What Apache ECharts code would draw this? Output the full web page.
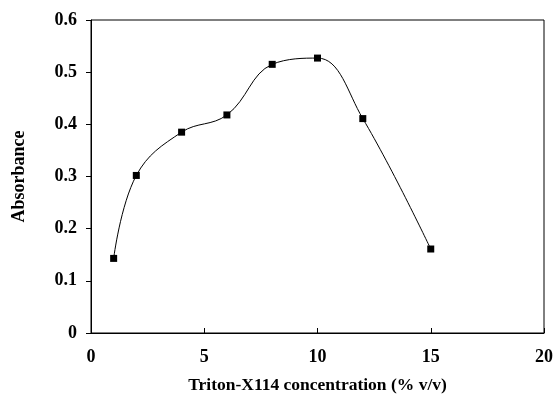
<!DOCTYPE html>
<html>
<head>
<meta charset="utf-8">
<script src="https://cdn.jsdelivr.net/npm/echarts@6/dist/echarts.min.js"></script>
<style>html,body{margin:0;padding:0;background:#fff}#c{width:556px;height:401px}</style>
</head>
<body>
<div id="c"></div>
<script>
const concentration = [1, 2, 4, 6, 8, 10, 12, 15];
const absorbance = [0.143, 0.302, 0.385, 0.418, 0.515, 0.527, 0.411, 0.161];
const xTicks = [0, 5, 10, 15, 20];
const yTicks = [0, 0.1, 0.2, 0.3, 0.4, 0.5, 0.6];

const font = '"Liberation Serif", "Times New Roman", serif';
const chart = echarts.init(document.getElementById('c'));
chart.setOption({
  animation: false,
  backgroundColor: '#fff',
  grid: { left: 91, right: 10, top: 20, bottom: 68, containLabel: false, show: true, borderColor: '#000', borderWidth: 1 },
  xAxis: {
    type: 'value', min: xTicks[0], max: xTicks[xTicks.length - 1], interval: 5,
    name: 'Triton-X114 concentration (% v/v)', nameLocation: 'middle', nameGap: 43,
    nameTextStyle: { fontFamily: font, fontWeight: 'bold', fontSize: 17.5, color: '#000' },
    axisLine: { lineStyle: { color: '#000', width: 1 } },
    axisTick: { inside: true, length: 5, lineStyle: { color: '#000' } },
    axisLabel: { fontFamily: font, fontWeight: 'bold', fontSize: 18, color: '#000', margin: 15 },
    splitLine: { show: false }
  },
  yAxis: {
    type: 'value', min: yTicks[0], max: yTicks[yTicks.length - 1], interval: 0.1,
    name: 'Absorbance', nameLocation: 'middle', nameGap: 63, nameRotate: 90,
    nameTextStyle: { fontFamily: font, fontWeight: 'bold', fontSize: 18, color: '#000' },
    axisLine: { show: true, lineStyle: { color: '#000', width: 1 } },
    axisTick: { show: true, inside: false, length: 5, lineStyle: { color: '#000' } },
    axisLabel: { fontFamily: font, fontWeight: 'bold', fontSize: 18, color: '#000', margin: 14,
      formatter: v => (Math.round(v * 10) / 10).toString() },
    splitLine: { show: false }
  },
  series: [{
    type: 'line',
    data: concentration.map((x, i) => [x, absorbance[i]]),
    smooth: 0.4,
    symbol: 'rect', symbolSize: 7,
    itemStyle: { color: '#000' },
    lineStyle: { color: '#000', width: 1 }
  }]
});
</script>
</body>
</html>
